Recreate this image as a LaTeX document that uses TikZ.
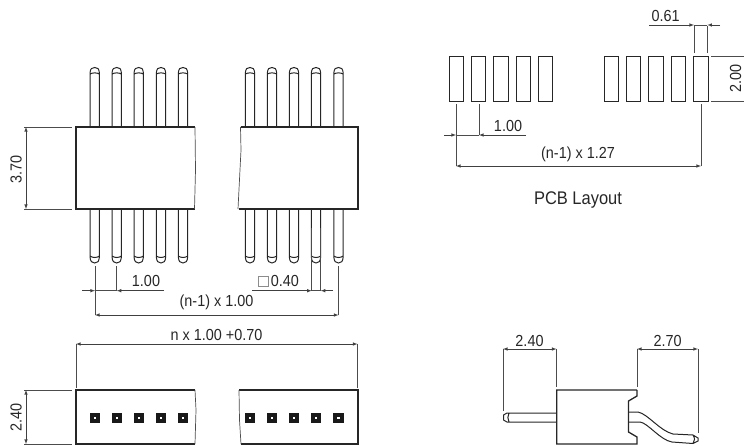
\documentclass[tikz,border=0pt]{standalone}
\usepackage{fontspec}
\newfontfamily\dimfont[FakeStretch=.9]{Liberation Sans}
\tikzset{
    outline/.style={line width=1.3pt,black!85},
    breakline/.style={line width=.7pt,black!70},
    pinline/.style={line width=1pt,black!85},
    extline/.style={line width=.6pt,black!70},
    dimline/.style={line width=.6pt,black!75,-latex},
    dimlabel/.style={font=\dimfont\fontsize{16}{18}\selectfont,text=black!85,inner sep=0pt},
}
\begin{document}
\begin{tikzpicture}[x=1pt,y=-1pt]
    \useasboundingbox (0,0) rectangle (744,445);
    % pins of the top view
    \foreach \x in {94.7,116.7,138.7,161,183,250,272,294,316,338.5} {
        \draw[pinline] (\x-4.7,127) -- (\x-4.7,73) .. controls (\x-4.2,68.5) and (\x-3,67.5) .. (\x,67.5)
            .. controls (\x+3,67.5) and (\x+4.2,68.5) .. (\x+4.7,73) -- (\x+4.7,127)
            (\x-4.7,74) .. controls (\x-2,72.5) and (\x+2,72.5) .. (\x+4.7,74);
        \draw[pinline] (\x-4.7,209) -- (\x-4.7,257) .. controls (\x-4.2,261.5) and (\x-3,263) .. (\x,263)
            .. controls (\x+3,263) and (\x+4.2,261.5) .. (\x+4.7,257) -- (\x+4.7,209)
            (\x-4.7,256) .. controls (\x-2,258) and (\x+2,258) .. (\x+4.7,256);
    }
    % top view bodies
    \draw[outline] (195,127) -- (76,127) -- (76,209) -- (195,209);
    \draw[breakline] (195,127) -- (195.5,170) -- (194.5,209);
    \draw[outline] (240.5,127) -- (358,127) -- (358,209) -- (238.5,209);
    \draw[breakline] (240.5,127) -- (241,150) -- (238,209);
    % dimensions of the top view
    \draw[extline] (24,127) -- (72,127) (24,209) -- (72,209);
    \draw[dimline,latex-latex] (26,127) -- (26,209);
    \node[dimlabel,rotate=90] (hbody) at (16,169) {3.70};
    \draw[extline] (95,266) -- (95,315) (116.7,266) -- (116.7,291) (338.5,266) -- (338.5,315)
        (311.7,228) -- (311.7,291) (320.7,228) -- (320.7,291);
    \draw[dimline] (82,290.7) -- (95,290.7);
    \draw[dimline] (164,290.7) -- (116.7,290.7);
    \draw[extline] (95,290.7) -- (116.7,290.7) (311.7,290.7) -- (320.7,290.7);
    \node[dimlabel] (pitchtop) at (146,281) {1.00};
    \draw[dimline] (252,290.7) -- (311.7,290.7);
    \draw[dimline] (333,290.7) -- (320.7,290.7);
    \node[dimlabel] (pinsize) at (278.5,281) {\textcolor{black!45}{\fboxsep=0pt\fboxrule=.6pt\fbox{\rule{9pt}{0pt}\rule{0pt}{10pt}}}\,0.40};
    \draw[dimline,latex-latex] (95,315) -- (338.5,315);
    \node[dimlabel] (spantop) at (216.5,302) {(n-1) x 1.00};
    % pcb layout
    \foreach \x in {449,471,493.5,516,538,604,626,648.5,671,693.5} {
        \draw[pinline] (\x,56) rectangle (\x+14.5,101);
    }
    \draw[extline] (694,26) -- (694,53) (707.3,26) -- (707.3,53)
        (711,56) -- (744,56) (711,101) -- (744,101)
        (456,104) -- (456,166) (479,104) -- (479,135) (701,104) -- (701,166)
        (694,25) -- (707.3,25) (456,135) -- (479,135);
    \draw[dimline] (649,25) -- (694,25);
    \draw[dimline] (720,25) -- (707.3,25);
    \node[dimlabel] (padwidth) at (665.7,16) {0.61};
    \node[dimlabel,rotate=90] (padlength) at (735.5,78.5) {2.00};
    \draw[dimline] (444,135) -- (456,135);
    \draw[dimline] (526,135) -- (479,135);
    \node[dimlabel] (pitchpcb) at (508,126) {1.00};
    \draw[dimline,latex-latex] (456,166) -- (701,166);
    \node[dimlabel] (spanpcb) at (578,154) {(n-1) x 1.27};
    \node[dimlabel,font=\dimfont\fontsize{18.3}{21}\selectfont] (pcbtitle) at (578,200) {PCB Layout};
    % bottom view
    \draw[outline] (195,390) -- (76,390) -- (76,444) -- (195,444);
    \draw[breakline] (195,390) -- (196,410) -- (195,444);
    \draw[outline] (239,390) -- (358,390) -- (358,444) -- (241,444);
    \draw[breakline] (239,390) -- (239.5,420) -- (241,444);
    \foreach \x in {94.7,116.7,138.7,161,183,250,272,294,316,338.5} {
        \fill[black!90] (\x-5.2,412.5) rectangle (\x+5.2,423);
        \fill[white] (\x-1.2,416.5) rectangle (\x+1.2,419);
    }
    \draw[extline] (76,344) -- (76,388) (357.5,344) -- (357.5,388)
        (24,390) -- (72,390) (24,444) -- (72,444);
    \draw[dimline,latex-latex] (76,344) -- (357.5,344);
    \node[dimlabel] (lenbody) at (216.5,335) {n x 1.00 +0.70};
    \draw[dimline,latex-latex] (26,390) -- (26,444);
    \node[dimlabel,rotate=90] (hbottom) at (16,417) {2.40};
    % side view
    \draw[outline] (637,390) -- (556.7,390) -- (556.7,444) -- (637,444) -- (637,437) -- (628.5,432)
        -- (628.5,401) -- (637,396) -- (637,390);
    \draw[pinline] (556.7,413) -- (507,413) -- (503.5,415) -- (503.5,420) -- (507,422) -- (556.7,422)
        (509,413) .. controls (507.5,416) and (507.5,419) .. (509,422);
    \draw[pinline] (629,412) -- (638,412) .. controls (648,414) and (660,431) .. (673,434) -- (693,435)
        -- (698,438) -- (698,441) -- (693,443.5) -- (672,442) .. controls (660,440) and (648,423) .. (640,422) -- (629,422)
        (693,435) .. controls (695,438) and (695,441) .. (693,443.5);
    \draw[extline] (503,349) -- (503,411) (556.5,349) -- (556.5,387)
        (637,349) -- (637,387) (698,349) -- (698,433);
    \draw[dimline,latex-latex] (503,349) -- (556.5,349);
    \draw[dimline,latex-latex] (637,349) -- (698,349);
    \node[dimlabel] (pinfront) at (529.5,341) {2.40};
    \node[dimlabel] (pinback) at (667.7,341) {2.70};
\end{tikzpicture}
\end{document}
